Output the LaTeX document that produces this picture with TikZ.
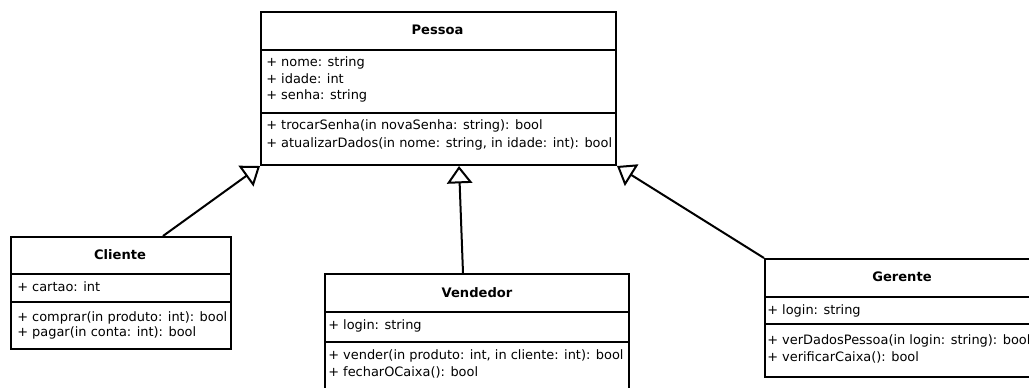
\documentclass[tikz,border=0pt]{standalone}
\usepackage{fontspec}
\setmainfont{DejaVu Sans}
\usetikzlibrary{arrows.meta}
\tikzset{
  px/.style={x=0.75pt,y=-0.75pt},
  classbox/.style={draw=black,line width=1.5pt,anchor=north west,inner sep=0pt,fill=white},
  sep/.style={draw=black,line width=1.5pt},
  title/.style={font=\fontsize{9.8}{12}\selectfont\bfseries,inner sep=0pt,anchor=base},
  member/.style={font=\fontsize{9.7}{12}\selectfont,inner sep=0pt,anchor=base west},
  inherit/.style={draw=black,line width=1.5pt,-{Triangle[open,length=13pt,width=19pt]}}
}
\begin{document}
\begin{tikzpicture}[px]
\useasboundingbox (0,0) rectangle (1029,387);
\begin{scope}
\clip (0,0) rectangle (1029,387);
% Pessoa
\node[classbox,minimum width=355*0.75pt,minimum height=153*0.75pt] (pessoa) at (260,11) {};
\draw[sep] (pessoa.west |- 0,50) -- (pessoa.east |- 0,50);
\draw[sep] (pessoa.west |- 0,113) -- (pessoa.east |- 0,113);
\node[title] (pt) at (437.5,34) {Pessoa};
\node[member] (p1) at (266,66) {+ nome: string};
\node[member] (p2) at (266,83) {+ idade: int};
\node[member] (p3) at (266,99) {+ senha: string};
\node[member] (p4) at (266,129) {+ trocarSenha(in novaSenha: string): bool};
\node[member] (p5) at (266,147) {+ atualizarDados(in nome: string, in idade: int): bool};
% Cliente
\node[classbox,minimum width=220*0.75pt,minimum height=112*0.75pt] (cliente) at (10,236) {};
\draw[sep] (cliente.west |- 0,274) -- (cliente.east |- 0,274);
\draw[sep] (cliente.west |- 0,302) -- (cliente.east |- 0,302);
\node[title] (ct) at (120,259) {Cliente};
\node[member] (c1) at (17,291) {+ cartao: int};
\node[member] (c2) at (17,321) {+ comprar(in produto: int): bool};
\node[member] (c3) at (17,336) {+ pagar(in conta: int): bool};
% Vendedor
\node[classbox,minimum width=304*0.75pt,minimum height=130*0.75pt] (vendedor) at (324,273) {};
\draw[sep] (vendedor.west |- 0,312) -- (vendedor.east |- 0,312);
\draw[sep] (vendedor.west |- 0,342) -- (vendedor.east |- 0,342);
\node[title] (vt) at (477,297) {Vendedor};
\node[member] (v1) at (328,329) {+ login: string};
\node[member] (v2) at (328,359) {+ vender(in produto: int, in cliente: int): bool};
\node[member] (v3) at (328,376) {+ fecharOCaixa(): bool};
% Gerente
\node[classbox,minimum width=276*0.75pt,minimum height=118*0.75pt] (gerente) at (764,258) {};
\draw[sep] (gerente.west |- 0,297) -- (gerente.east |- 0,297);
\draw[sep] (gerente.west |- 0,324) -- (gerente.east |- 0,324);
\node[title] (gt) at (902,281) {Gerente};
\node[member] (g1) at (767,314) {+ login: string};
\node[member] (g2) at (767,344) {+ verDadosPessoa(in login: string): bool};
\node[member] (g3) at (767,361) {+ verificarCaixa(): bool};
% connectors
\draw[inherit] ([xshift=153*0.75pt]cliente.north west) -- (pessoa.south west);
\draw[inherit] ([xshift=-14*0.75pt]vendedor.north) -- ([xshift=20.5*0.75pt]pessoa.south);
\draw[inherit] (gerente.north west) -- (pessoa.south east);
\end{scope}
\end{tikzpicture}
\end{document}
